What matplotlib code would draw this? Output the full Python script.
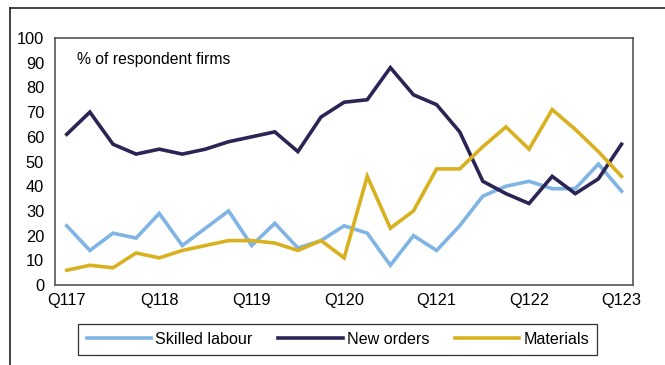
import matplotlib.pyplot as plt
import numpy as np
from matplotlib.lines import Line2D

plt.rcParams['font.family'] = ['Liberation Sans', 'DejaVu Sans']

quarters = ['Q117', 'Q217', 'Q317', 'Q417', 'Q118', 'Q218', 'Q318', 'Q418',
            'Q119', 'Q219', 'Q319', 'Q419', 'Q120', 'Q220', 'Q320', 'Q420',
            'Q121', 'Q221', 'Q321', 'Q421', 'Q122', 'Q222', 'Q322', 'Q422',
            'Q123']
skilled_labour = [24, 14, 21, 19, 29, 16, 23, 30, 16, 25, 15, 18, 24, 21, 8,
                  20, 14, 24, 36, 40, 42, 39, 39, 49, 38]
new_orders = [61, 70, 57, 53, 55, 53, 55, 58, 60, 62, 54, 68, 74, 75, 88, 77,
              73, 62, 42, 37, 33, 44, 37, 43, 57]
materials = [6, 8, 7, 13, 11, 14, 16, 18, 18, 17, 14, 18, 11, 44, 23, 30, 47,
             47, 56, 64, 55, 71, 63, 54, 44]
series_names = ['Skilled labour', 'New orders', 'Materials']
colors = ['#7fb4e4', '#2b2555', '#d9b11f']

fig = plt.figure(figsize=(6.65, 3.65), dpi=100)
ax = fig.add_axes([0.083, 0.219, 0.869, 0.677])

x = np.arange(len(quarters))
for vals, name, c in zip([skilled_labour, new_orders, materials], series_names, colors):
    ax.plot(x, vals, color=c, lw=2.6, label=name, solid_joinstyle='miter')

ax.set_xlim(-0.5, len(quarters) - 0.5)
ax.set_ylim(0, 100)
ax.set_yticks(range(0, 101, 10))
ax.set_xticks(x[::4])
ax.set_xticklabels(quarters[::4])
ax.tick_params(length=0, labelsize=11.8, colors='black')
ax.tick_params(axis='y', pad=8)
ax.tick_params(axis='x', pad=6)
for s in ax.spines.values():
    s.set_color('#555555')
    s.set_linewidth(1.2)

ax.text(0.037, 0.945, '% of respondent firms', transform=ax.transAxes,
        fontsize=11.3, va='top', ha='left')

handles = [Line2D([], [], color=c, lw=2.6) for c in colors]
leg = fig.legend(handles, series_names, loc='center', bbox_to_anchor=(0.508, 0.071),
                 ncol=3, fontsize=11.6, frameon=True, fancybox=False,
                 handlelength=4.0, handletextpad=0.25, columnspacing=1.6,
                 borderpad=0.5)
leg.get_frame().set_edgecolor('black')
leg.get_frame().set_linewidth(0.9)

# outer frame lines of the panel
fig.add_artist(Line2D([10 / 665, 1.0], [1 - 8 / 365, 1 - 8 / 365],
                      transform=fig.transFigure, color='#222222', lw=1.2))
fig.add_artist(Line2D([10 / 665, 10 / 665], [0, 1 - 8 / 365],
                      transform=fig.transFigure, color='#222222', lw=1.2))

fig.savefig('out.png', dpi=100)
